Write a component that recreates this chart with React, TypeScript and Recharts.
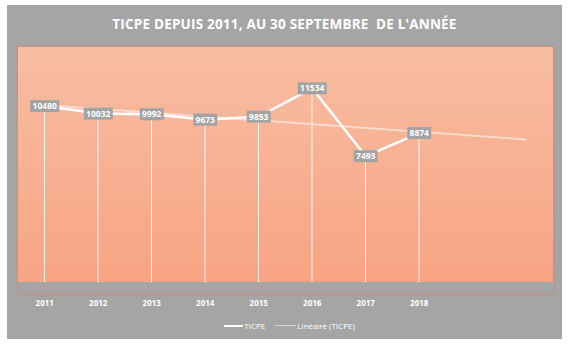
import {
  ComposedChart,
  Line,
  Bar,
  XAxis,
  YAxis,
  CartesianGrid,
  LabelList,
  Legend,
} from "recharts";

const years = ["2011", "2012", "2013", "2014", "2015", "2016", "2017", "2018", "2019", "2020"];
const tickLabels = ["2011", "2012", "2013", "2014", "2015", "2016", "2017", "2018", "", ""];
const ticpe = [10480, 10032, 9992, 9673, 9853, 11534, 7493, 8874, null, null];
// linear trend as drawn (Excel forecast 2 periods forward)
const trend = [10540, null, null, null, null, null, null, null, null, 8490];

const data = years.map((year, i) => ({
  year,
  ticpe: ticpe[i],
  trend: trend[i],
}));

const FONT = "'Open Sans', sans-serif";
const FRAME = "#A5A5A5";

function ValueLabel(props: any) {
  const { x, y, value } = props;
  if (value == null) return null;
  const text = String(value);
  const w = text.length * 5 + 4;
  const h = 12;
  return (
    <g>
      <rect x={x - w / 2} y={y - h / 2} width={w} height={h} fill="#A3A3A3" />
      <text
        x={x}
        y={y + 3}
        textAnchor="middle"
        fill="#fff"
        fontSize={8.5}
        fontWeight={700}
        fontFamily={FONT}
      >
        {text}
      </text>
    </g>
  );
}

function YearTick(props: any) {
  const { x, y, index } = props;
  return (
    <text
      x={x}
      y={y + 16}
      textAnchor="middle"
      fill="#fff"
      fontSize={8}
      fontWeight={700}
      fontFamily={FONT}
    >
      {tickLabels[index]}
    </text>
  );
}

function LegendContent() {
  return (
    <div
      style={{
        display: "flex",
        justifyContent: "center",
        alignItems: "center",
        fontFamily: FONT,
        fontSize: 8,
        color: "#fff",
        gap: 10,
        paddingLeft: 8,
      }}
    >
      <span style={{ display: "flex", alignItems: "center" }}>
        <span style={{ width: 19, height: 2, background: "#fff", marginRight: 1 }} />
        TICPE
      </span>
      <span style={{ display: "flex", alignItems: "center" }}>
        <span style={{ width: 21, height: 1.5, background: "#D6D6D6", marginRight: 1 }} />
        Linéaire (TICPE)
      </span>
    </div>
  );
}

export default function App() {
  return (
    <div
      style={{
        position: "absolute",
        left: 7,
        top: 5,
        width: 555,
        height: 334,
        background: FRAME,
      }}
    >
      <div
        style={{
          position: "absolute",
          top: 10,
          left: 0,
          width: 555,
          textAlign: "center",
          color: "#fff",
          fontFamily: FONT,
          fontWeight: 700,
          fontSize: 13.5,
          letterSpacing: 0.2,
          whiteSpace: "pre",
        }}
      >
        {"TICPE DEPUIS 2011, AU 30 SEPTEMBRE  DE L'ANNÉE"}
      </div>
      <div
        style={{
          position: "absolute",
          left: 11,
          top: 42,
          width: 535,
          height: 246,
          boxShadow: "0 0 2px 1px rgba(230,130,90,0.6)",
        }}
      />
      <ComposedChart
        width={555}
        height={334}
        data={data}
        margin={{ top: 42, right: 9, bottom: 26, left: 11 }}
        style={{ position: "absolute", left: 0, top: 0 }}
      >
        <defs>
          <linearGradient id="plotBg" x1="0" y1="0" x2="0" y2="1">
            <stop offset="0%" stopColor="#F8BDA3" />
            <stop offset="100%" stopColor="#F7A483" />
          </linearGradient>
        </defs>
        <CartesianGrid horizontal={false} vertical={false} fill="url(#plotBg)" />
        <XAxis
          dataKey="year"
          height={20}
          axisLine={false}
          tickLine={false}
          interval={0}
          tick={<YearTick />}
        />
        <YAxis hide domain={[0, 14000]} />
        <Legend
          verticalAlign="bottom"
          content={<LegendContent />}
          wrapperStyle={{ bottom: 8 }}
        />
        <Bar
          dataKey="ticpe"
          barSize={1}
          fill="#FFFFFF"
          fillOpacity={0.85}
          isAnimationActive={false}
          legendType="none"
        />
        <Line
          dataKey="trend"
          type="linear"
          connectNulls
          stroke="#FBD9CB"
          strokeWidth={2}
          dot={false}
          activeDot={false}
          isAnimationActive={false}
        />
        <Line
          dataKey="ticpe"
          type="linear"
          stroke="#FFFFFF"
          strokeWidth={2.5}
          dot={false}
          activeDot={false}
          isAnimationActive={false}
        >
          <LabelList dataKey="ticpe" content={<ValueLabel />} />
        </Line>
      </ComposedChart>
    </div>
  );
}
